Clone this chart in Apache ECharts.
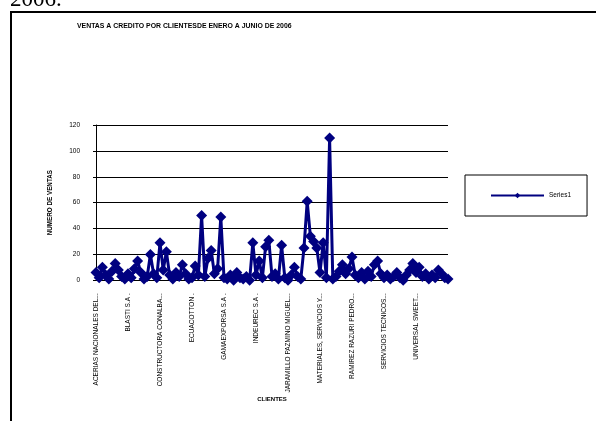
<!DOCTYPE html>
<html>
<head>
<meta charset="utf-8">
<script src="https://cdn.jsdelivr.net/npm/echarts@6/dist/echarts.min.js"></script>
<style>
  html, body { margin: 0; padding: 0; background: #ffffff; }
  #chart { width: 596px; height: 421px; }
</style>
</head>
<body>
<div id="chart"></div>
<script>
// Clients shown on the category axis (one every ten clients)
const labeledClients = [
  'ACERIAS NACIONALES DEL...',
  'BLASTI S.A .',
  'CONSTRUCTORA CONALBA...',
  'ECUACOTTON .',
  'GAMAEXPORSA S.A .',
  'INDEUREC S.A .',
  'JARAMILLO PAZMINO MIGUEL...',
  'MATERIALES, SERVICIOS Y...',
  'RAMIREZ RAZURI PEDRO...',
  'SERVICIOS TECNICOS...',
  'UNIVERSAL SWEET...'
];
const labelStep = 10;

// Number of credit sales per client, January to June 2006
const series1 = [
  6, 2, 10, 4, 1, 7, 13, 8, 3, 1,
  5, 2, 9, 15, 6, 1, 3, 20, 5, 2,
  29, 8, 22, 4, 1, 6, 3, 12, 5, 1,
  2, 11, 4, 50, 3, 17, 23, 5, 9, 49,
  2, 1, 4, 0, 6, 2, 1, 3, 0, 29,
  4, 15, 2, 26, 31, 3, 5, 1, 27, 2,
  0, 4, 10, 3, 1, 25, 61, 34, 30, 25,
  6, 29, 2, 110, 1, 3, 7, 12, 5, 9,
  18, 4, 2, 6, 1, 7, 3, 12, 15, 5,
  2, 4, 1, 3, 6, 2, 0, 4, 8, 13,
  6, 10, 3, 5, 1, 4, 2, 8, 5, 2,
  1
];

const yTicks = { min: 0, max: 120, interval: 20 };

// One category per client; only every tenth carries a visible name
const categories = series1.map((_, i) =>
  i % labelStep === 0 && labeledClients[i / labelStep] ? labeledClients[i / labelStep] : ''
);

const FONT = '"Liberation Sans", Arial, sans-serif';
const chart = echarts.init(document.getElementById('chart'), null, { renderer: 'canvas' });

chart.setOption({
  animation: false,
  backgroundColor: '#ffffff',
  title: {
    text: 'VENTAS A CREDITO POR CLIENTESDE ENERO A JUNIO DE 2006',
    left: 77,
    top: 23,
    padding: 0,
    textStyle: { fontFamily: FONT, fontSize: 6.9, fontWeight: 'bold', color: '#000' }
  },
  legend: {
    data: ['Series1'],
    left: 465,
    top: 175,
    orient: 'vertical',
    padding: [17, 16, 17, 25],
    borderColor: '#000',
    borderWidth: 1,
    itemWidth: 53,
    itemHeight: 7,
    itemGap: 0,
    textStyle: { fontFamily: FONT, fontSize: 6.5, color: '#000', padding: [0, 0, 0, 0] }
  },
  grid: { left: 96, right: 148, top: 125, bottom: 140.7, containLabel: false },
  xAxis: {
    type: 'category',
    data: categories,
    boundaryGap: false,
    name: 'CLIENTES',
    nameLocation: 'middle',
    nameGap: 86,
    nameTextStyle: { fontFamily: FONT, fontSize: 6, fontWeight: 'bold', color: '#000' },
    axisLine: { lineStyle: { color: '#000', width: 1 } },
    axisTick: { show: false },
    axisLabel: {
      interval: labelStep - 1,
      rotate: 90,
      margin: 13,
      fontFamily: FONT,
      fontSize: 6.5,
      color: '#000'
    },
    splitLine: { show: false }
  },
  yAxis: {
    type: 'value',
    min: yTicks.min,
    max: yTicks.max,
    interval: yTicks.interval,
    name: 'NUMERO DE VENTAS',
    nameLocation: 'middle',
    nameGap: 43,
    nameRotate: 90,
    nameTextStyle: { fontFamily: FONT, fontSize: 6.3, fontWeight: 'bold', color: '#000' },
    axisLine: { show: true, lineStyle: { color: '#000', width: 1 } },
    axisTick: { show: true, length: 3, lineStyle: { color: '#000' } },
    axisLabel: { margin: 16, fontFamily: FONT, fontSize: 6.5, color: '#000' },
    splitLine: { lineStyle: { color: '#000', width: 1 } }
  },
  series: [{
    name: 'Series1',
    type: 'line',
    data: series1,
    symbol: 'diamond',
    symbolSize: 11,
    showAllSymbol: true,
    lineStyle: { color: '#000080', width: 3 },
    itemStyle: { color: '#000080', borderColor: '#000080', borderWidth: 0 }
  }],
  graphic: [
    {
      type: 'text',
      left: 10,
      top: -12,
      style: { text: '2006.', font: '23px "Liberation Serif", "Times New Roman", serif', fill: '#000' }
    },
    {
      type: 'polyline',
      shape: { points: [[11, 421], [11, 12], [596, 12]] },
      style: { stroke: '#000', lineWidth: 2, fill: null }
    }
  ]
});
</script>
</body>
</html>
